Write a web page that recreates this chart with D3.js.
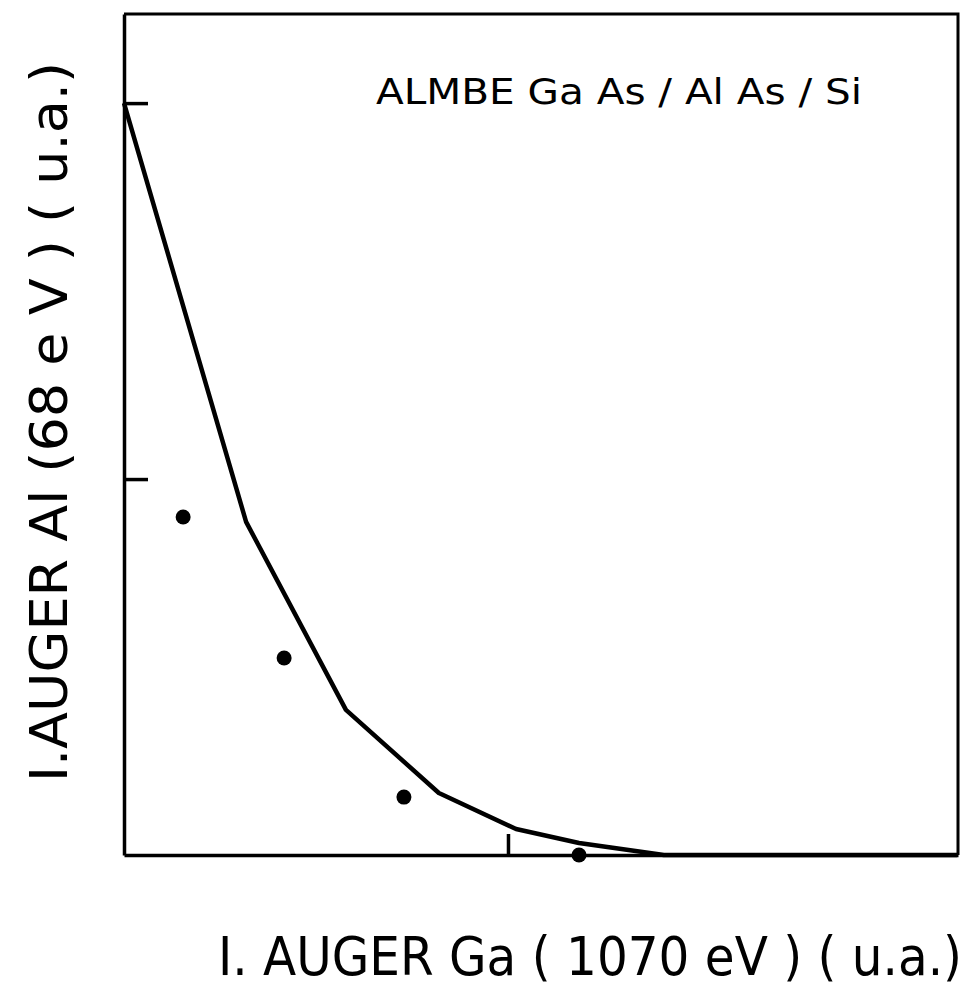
<!DOCTYPE html>
<html>
<head>
<meta charset="utf-8">
<style>
body { margin: 0; background: #fff; }
text {
  fill: #000;
  font-family: "DejaVu Sans Condensed", "Liberation Sans Narrow", "Liberation Sans", sans-serif;
}
.axis path, .axis line { stroke: #000; stroke-width: 3.5px; }
</style>
<title></title></head>
<body>
<script src="https://cdn.jsdelivr.net/npm/d3@7"></script>
<script>

// curve (solid line), in arbitrary units
var lineX = [0, 0.318, 0.578, 0.820, 1.021, 1.185, 1.406, 2.17];
var lineY = [2.0, 0.886, 0.386, 0.165, 0.069, 0.032, 0, 0];

// measured points
var dotX = [0.154, 0.417, 0.729, 1.185];
var dotY = [0.899, 0.524, 0.154, 0];

var yTicks = [1, 2];
var xTicks = [1];

var title = "ALMBE  Ga As / Al As / Si";
var xLabel = "I. AUGER  Ga ( 1070 eV ) ( u.a.)";
var yLabel = "I.AUGER  Al  (68 e V ) ( u.a.)";

var width = 969, height = 987;
var pl = 124, pr = 958, pt = 14, pb = 855;

var x = d3.scaleLinear().domain([0, 2.172]).range([pl, pr]);
var y = d3.scaleLinear().domain([0, 2.237]).range([pb, pt]);

var svg = d3.select("body").append("svg")
    .attr("width", width)
    .attr("height", height);

// frame: top and right sides
svg.append("path")
    .attr("d", "M" + pl + "," + pt + "H" + pr + "V" + pb)
    .attr("fill", "none")
    .attr("stroke", "#000")
    .attr("stroke-width", 3);

// ticks point into the plot
svg.append("g")
    .attr("class", "axis")
    .attr("transform", "translate(" + pl + ",0)")
    .call(d3.axisRight(y).tickValues(yTicks).tickSizeInner(24).tickSizeOuter(0).tickFormat(""));

svg.append("g")
    .attr("class", "axis")
    .attr("transform", "translate(0," + pb + ")")
    .call(d3.axisTop(x).tickValues(xTicks).tickSizeInner(21).tickSizeOuter(0).tickFormat(""));

var pts = lineX.map(function(d, i) { return [d, lineY[i]]; });

svg.append("path")
    .datum(pts)
    .attr("fill", "none")
    .attr("stroke", "#000")
    .attr("stroke-width", 4.5)
    .attr("stroke-linejoin", "round")
    .attr("d", d3.line()
        .x(function(d) { return x(d[0]); })
        .y(function(d) { return y(d[1]); }));

svg.selectAll("circle.dot")
    .data(dotX)
    .enter().append("circle")
    .attr("class", "dot")
    .attr("cx", function(d) { return x(d); })
    .attr("cy", function(d, i) { return y(dotY[i]); })
    .attr("r", 7.5)
    .attr("fill", "#000");

svg.append("text")
    .attr("x", 376)
    .attr("y", 104)
    .attr("textLength", 486)
    .attr("lengthAdjust", "spacingAndGlyphs")
    .style("font-size", "36px")
    .text(title);

svg.append("text")
    .attr("x", 218)
    .attr("y", 975)
    .attr("textLength", 744)
    .attr("lengthAdjust", "spacingAndGlyphs")
    .style("font-size", "54px")
    .text(xLabel);

svg.append("text")
    .attr("transform", "translate(67,782) rotate(-90)")
    .attr("textLength", 720)
    .attr("lengthAdjust", "spacingAndGlyphs")
    .style("font-size", "52px")
    .text(yLabel);

</script>
</body>
</html>
